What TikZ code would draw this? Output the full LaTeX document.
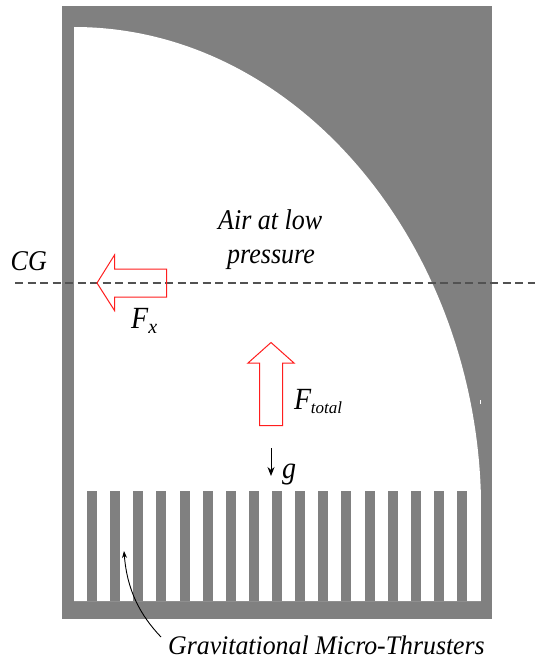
\documentclass[tikz,border=0pt]{standalone}
\usepackage{fontspec}
\setmainfont{Liberation Serif}
\usetikzlibrary{arrows.meta}
\definecolor{wallgray}{RGB}{128,128,128}
\definecolor{forcered}{RGB}{255,30,30}
\newcommand{\tallx}[1]{\scalebox{1}[1.1]{#1}}
\tikzset{
  wall/.style={fill=wallgray,draw=none},
  cavity/.style={fill=white,draw=none},
  force/.style={draw=forcered,line width=1pt,line join=miter},
  lab/.style={inner sep=0pt,anchor=base west,font=\itshape\fontsize{26}{30}\selectfont},
  bigl/.style={lab,font=\itshape\fontsize{28}{30}\selectfont},
  axisline/.style={draw=black!68,line width=1.1pt,dash pattern=on 8pt off 4.5pt},
  pointer/.style={draw=black,line width=0.9pt,-{Stealth[length=7pt,width=5pt]}}
}
\begin{document}
\begin{tikzpicture}[x=1pt,y=-1pt]
\useasboundingbox (0,0) rectangle (535,661);
% body
\fill[black!22] (491,6) rectangle (492.3,227);
\fill[wall] (62,6) rectangle (491.5,619);
% cavity
\fill[cavity] (74,601) -- (74,27) .. controls (295,27) and (472,240) .. (480.8,491) -- (480.8,601) -- cycle;
% thruster bars
\foreach \k in {0,...,16}{
  \pgfmathsetmacro{\xa}{87+23.125*\k}
  \fill[wall] (\xa,491) rectangle (\xa+10,601);
}
\fill[white] (480.2,399.5) rectangle (481,404);
% axis
\coordinate (axisL) at (15,283);
\coordinate (axisR) at (535,283);
\draw[axisline] (axisL) -- (axisR);
% force arrows
\draw[force] (97,283) -- (114.5,255) -- (114.5,269) -- (166.5,269) -- (166.5,297) -- (114.5,297) -- (114.5,310.5) -- cycle;
\draw[force] (271,342.5) -- (294,363) -- (282.5,363) -- (282.5,425.5) -- (259.5,425.5) -- (259.5,363) -- (248,363) -- cycle;
% g
\coordinate (gA) at (271,448);
\coordinate (gB) at (271,476);
\draw[pointer,line width=1pt,-{Stealth[length=9pt,width=7pt]}] (gA) -- (gB);
% labels
\node[lab] (air1) at (218,229) {\tallx{Air at low}};
\node[lab] (air2) at (227,263) {\tallx{pressure}};
\node[lab] (cg) at (10.5,270) {\tallx{CG}};
\node[bigl] (fx) at (131,328) {\tallx{F}\raisebox{-5pt}{\fontsize{20}{20}\selectfont x}};
\node[bigl] (ft) at (294,409) {\tallx{F}\kern-0.5pt\raisebox{-4pt}{\fontsize{17}{17}\selectfont total}};
\node[bigl] (g) at (282,478) {\tallx{g}};
\node[lab,font=\itshape\fontsize{25.8}{30}\selectfont] (gmt) at (168,654.5) {\scalebox{1}[1.04]{Gravitational Micro-Thrusters}};
% leader
\coordinate (lead) at (161,637);
\coordinate (leadEnd) at (124,551);
\draw[pointer] (lead) .. controls (140,615) and (127,590) .. (leadEnd);
\end{tikzpicture}
\end{document}
